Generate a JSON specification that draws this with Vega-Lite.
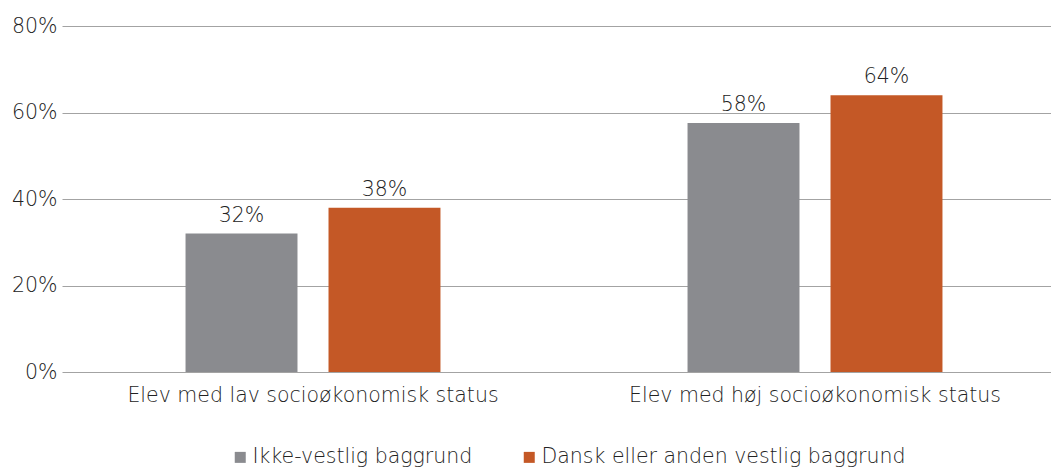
{
  "$schema": "https://vega.github.io/schema/vega-lite/v6.json",
  "width": 989,
  "height": 346,
  "autosize": {"type": "none"},
  "padding": {"left": 62, "top": 26, "right": 0, "bottom": 96},
  "background": "white",
  "data": {
    "values": [
      {"group": "Elev med lav socioøkonomisk status", "bg": "Ikke-vestlig baggrund", "value": 0.32},
      {"group": "Elev med lav socioøkonomisk status", "bg": "Dansk eller anden vestlig baggrund", "value": 0.38},
      {"group": "Elev med høj socioøkonomisk status", "bg": "Ikke-vestlig baggrund", "value": 0.576},
      {"group": "Elev med høj socioøkonomisk status", "bg": "Dansk eller anden vestlig baggrund", "value": 0.64}
    ]
  },
  "config": {
    "view": {"stroke": null},
    "font": "DejaVu Sans",
    "text": {"font": "DejaVu Sans"}
  },
  "encoding": {
    "x": {
      "field": "group",
      "type": "nominal",
      "sort": null,
      "scale": {"range": [0, 1004], "paddingInner": 0, "paddingOuter": 0},
      "axis": {
        "title": null,
        "domain": false,
        "ticks": false,
        "labelAngle": 0,
        "labelFontSize": 20.5,
        "labelColor": "#222222",
        "labelPadding": 13,
        "labelFontWeight": 300,
        "labelLimit": 500
      }
    },
    "xOffset": {
      "field": "bg",
      "type": "nominal",
      "sort": ["Ikke-vestlig baggrund", "Dansk eller anden vestlig baggrund"],
      "scale": {"paddingInner": 0.217, "paddingOuter": 0.864}
    },
    "y": {
      "field": "value",
      "type": "quantitative",
      "scale": {"domain": [0, 0.8], "nice": false},
      "axis": {
        "title": null,
        "values": [0, 0.2, 0.4, 0.6, 0.8],
        "format": ".0%",
        "domain": false,
        "ticks": false,
        "labelPadding": 5,
        "labelFontSize": 20.5,
        "labelColor": "#222222",
        "labelFontWeight": 300,
        "gridColor": "#a3a3a3",
        "gridWidth": 1
      }
    }
  },
  "layer": [
    {
      "mark": {"type": "bar"},
      "encoding": {
        "color": {
          "field": "bg",
          "type": "nominal",
          "sort": ["Ikke-vestlig baggrund", "Dansk eller anden vestlig baggrund"],
          "scale": {
            "domain": ["Ikke-vestlig baggrund", "Dansk eller anden vestlig baggrund"],
            "range": ["#8a8b8f", "#c45826"]
          },
          "legend": {
            "title": null,
            "orient": "none",
            "direction": "horizontal",
            "legendX": 168,
            "legendY": 421,
            "padding": 0,
            "symbolType": "square",
            "symbolSize": 121,
            "symbolStrokeWidth": 0,
            "labelFontSize": 20.5,
            "labelColor": "#222222",
            "labelFontWeight": 300,
            "labelOffset": 2,
            "columnPadding": 46,
            "labelLimit": 500
          }
        }
      }
    },
    {
      "mark": {"type": "text", "baseline": "alphabetic", "dy": -12, "fontSize": 20.5, "color": "#222222", "fontWeight": 300},
      "encoding": {
        "text": {"field": "value", "type": "quantitative", "format": ".0%"}
      }
    }
  ]
}
